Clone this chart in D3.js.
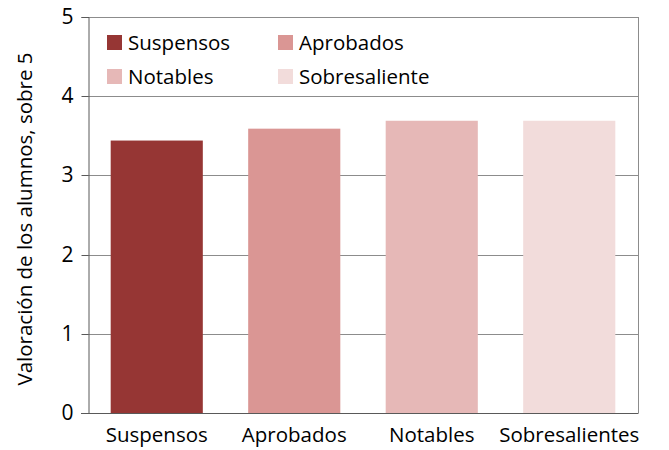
<!DOCTYPE html>
<html>
<head>
<meta charset="utf-8">
<script src="https://cdn.jsdelivr.net/npm/d3@7"></script>
<style>
  body { margin: 0; background: #fff; }
  text { font-family: "Open Sans", "Liberation Sans", sans-serif; fill: #000; }
</style>
</head>
<body>
<div id="screen"></div>
<script>
var width = 669;
var height = 450;

var categories = ["Suspensos", "Aprobados", "Notables", "Sobresalientes"];
var values = [3.44, 3.59, 3.69, 3.69];
var legendLabels = ["Suspensos", "Aprobados", "Notables", "Sobresaliente"];
var colors = ["#963634", "#DA9694", "#E6B8B7", "#F2DCDB"];
var yTicks = [0, 1, 2, 3, 4, 5];

var margin = {left: 88, right: 31, top: 17, bottom: 37};
var plotW = width - margin.left - margin.right;
var plotH = height - margin.top - margin.bottom;

var svg = d3.select("#screen").append("svg")
  .attr("width", width).attr("height", height);

var g = svg.append("g").attr("transform", "translate(" + margin.left + "," + margin.top + ")");

var x = d3.scaleBand().domain(categories).range([0, plotW]).paddingInner(0.33).paddingOuter(0.165);
var y = d3.scaleLinear().domain([0, 5]).range([plotH, 0]);

// gridlines
g.selectAll("line.grid").data(yTicks.slice(1)).enter().append("line")
  .attr("class", "grid")
  .attr("x1", 0).attr("x2", plotW)
  .attr("y1", function(d){ return Math.round(y(d)) + 0.5; })
  .attr("y2", function(d){ return Math.round(y(d)) + 0.5; })
  .attr("stroke", "#8c8c8c").attr("stroke-width", 1);

// right border
g.append("line")
  .attr("x1", plotW + 0.5).attr("x2", plotW + 0.5)
  .attr("y1", 0).attr("y2", plotH)
  .attr("stroke", "#8c8c8c");

// bars
g.selectAll("rect.bar").data(values).enter().append("rect")
  .attr("class", "bar")
  .attr("x", function(d, i){ return x(categories[i]); })
  .attr("width", x.bandwidth())
  .attr("y", function(d){ return y(d); })
  .attr("height", function(d){ return plotH - y(d); })
  .attr("fill", function(d, i){ return colors[i]; });

// y axis
var yAxis = d3.axisLeft(y).tickValues(yTicks).tickSize(7).tickPadding(8).tickFormat(d3.format("d"));
var ya = g.append("g").attr("transform", "translate(0.5,0)").call(yAxis);
ya.select(".domain").attr("stroke", "#595959");
ya.selectAll(".tick line").attr("stroke", "#595959");
ya.selectAll("text").style("font-size", "21px").attr("fill", "#000");
ya.selectAll(".tick").attr("transform", function(d){ return "translate(0," + (Math.round(y(d)) + 0.5) + ")"; });

// x axis
var xAxis = d3.axisBottom(x).tickSize(0).tickPadding(14);
var xa = g.append("g").attr("transform", "translate(0," + (plotH + 0.5) + ")").call(xAxis);
xa.select(".domain").attr("stroke", "#595959").attr("d", "M-7,0H" + (plotW + 0.5));
xa.selectAll("text").style("font-size", "20.5px").attr("fill", "#000");

// y title
svg.append("text")
  .attr("transform", "translate(32,219) rotate(-90)")
  .attr("text-anchor", "middle")
  .style("font-size", "20.5px")
  .text("Valoración de los alumnos, sobre 5");

// legend
var legend = g.selectAll("g.leg").data(legendLabels).enter().append("g")
  .attr("class", "leg")
  .attr("transform", function(d, i){
    return "translate(" + (19 + (i % 2) * 171) + "," + (18 + Math.floor(i / 2) * 34) + ")";
  });
legend.append("rect").attr("width", 15).attr("height", 15)
  .attr("fill", function(d, i){ return colors[i]; });
legend.append("text").attr("x", 21).attr("y", 15)
  .style("font-size", "20.5px")
  .text(function(d){ return d; });
</script>
</body>
</html>
